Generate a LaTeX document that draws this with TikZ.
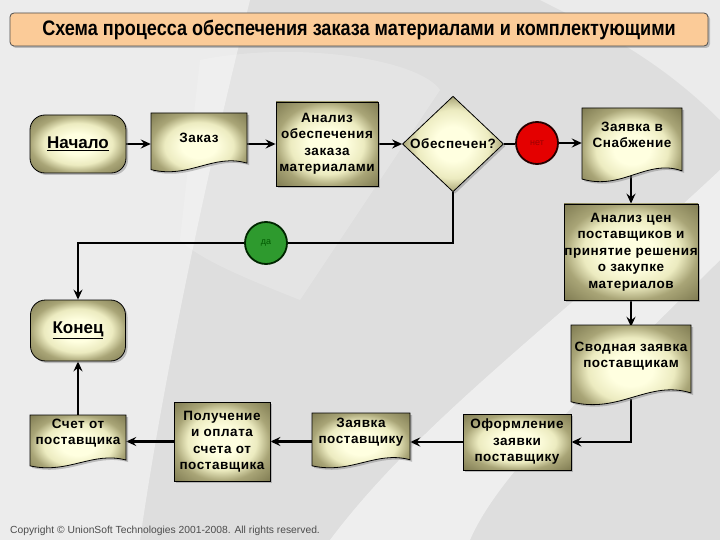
\documentclass[tikz,border=0pt]{standalone}
\usepackage{fontspec}
\setmainfont{Liberation Sans}
\newfontfamily\titlefont[FakeStretch=0.86]{Liberation Sans}
\newfontfamily\boxfont[LetterSpace=4]{Liberation Sans}
\usetikzlibrary{shapes.geometric,arrows.meta,shadows}
\pgfdeclarelayer{bg}\pgfdeclarelayer{conn}\pgfsetlayers{bg,conn,main}
\definecolor{boxin}{HTML}{FFFFE0}
\definecolor{boxmid}{HTML}{ECEBC0}
\definecolor{boxout}{HTML}{A9A577}
\definecolor{boxcorner}{HTML}{7D7950}
\definecolor{peach}{HTML}{FBCB98}
\definecolor{redc}{HTML}{E40000}
\definecolor{greenc}{HTML}{2E9A2E}
\definecolor{bggray}{HTML}{DEDEDE}
\pgfdeclareradialshading{olivesh}{\pgfpoint{0bp}{0bp}}{color(0bp)=(boxin); color(9bp)=(boxin); color(18bp)=(boxmid); color(25bp)=(boxout); color(36bp)=(boxcorner); color(50bp)=(boxcorner)}
\tikzset{
  olivefill/.style={shading=olivesh, draw=black, line width=0.8pt},
  shad/.style={drop shadow={shadow xshift=2pt, shadow yshift=-2pt, opacity=0.45}},
  boxtxt/.style={font=\boxfont\bfseries\fontsize{13.5}{16.5}\selectfont, align=center},
  procbox/.style={rectangle, olivefill, shad, boxtxt, inner sep=0pt},
  termbox/.style={rectangle, rounded corners=15pt, olivefill, shad, inner sep=0pt,
     font=\bfseries\fontsize{17}{20}\selectfont},
  decbox/.style={diamond, olivefill, shad, boxtxt, inner sep=0pt},
  docarea/.style={rectangle, draw=none, inner sep=0pt},
  doctxt/.style={boxtxt, inner sep=0pt},
  docshape/.style={olivefill, shad},
  circ/.style={circle, inner sep=0pt, minimum size=42pt, line width=1.8pt,
     font=\fontsize{9}{10}\selectfont},
  arr/.style={line width=2.2pt, -{Stealth[length=10pt,width=9pt,inset=3.5pt]}},
  ln/.style={line width=2.2pt}
}
\newcommand\docpath[4]{% l t r b  (y downward)
  \path[docshape] (#1,#2) -- (#3,#2) -- (#3,{#4-0.15*(#4-#2)})
    .. controls ({#3-0.35*(#3-#1)},{#4-0.32*(#4-#2)}) and ({#1+0.4*(#3-#1)},{#4+0.12*(#4-#2)})
    .. (#1,{#4-0.04*(#4-#2)}) -- cycle;}
\begin{document}
\begin{tikzpicture}[x=1pt,y=-1pt]
\useasboundingbox (0,0) rectangle (720,540);
\begin{pgfonlayer}{bg}
  \fill[bggray] (0,0) rectangle (720,540);
  \fill[white,opacity=0.45] (0,0) -- (250,0) .. controls (200,200) and (160,400) .. (140,540) -- (0,540) -- cycle;
  \fill[white,opacity=0.5] (330,540) .. controls (420,420) and (560,320) .. (720,170) -- (720,260) .. controls (600,380) and (500,470) .. (470,540) -- cycle;
  \fill[white,opacity=0.4] (540,0) -- (720,0) -- (720,120) .. controls (660,60) and (600,30) .. (540,0) -- cycle;
  \fill[white,opacity=0.2] (200,60) .. controls (300,40) and (420,60) .. (440,90) -- (300,300) .. controls (250,280) and (200,260) .. (180,240) -- cycle;
\end{pgfonlayer}

% title
\node[rectangle, rounded corners=4pt, fill=peach, draw=black!70, line width=0.8pt, shad,
      minimum width=698pt, minimum height=33pt, inner sep=0pt,
      font=\titlefont\bfseries\fontsize{21}{24}\selectfont] (title) at (359,29.5)
      {Схема процесса обеспечения заказа материалами и комплектующими};

% top row
\node[termbox, minimum width=96pt, minimum height=58pt] (start) at (78,144) {\underline{Начало}};
\docpath{151}{113}{247}{172}
\node[docarea, minimum width=96pt, minimum height=52pt] (zakaz) at (199,143) {};
\node[doctxt] (zakazt) at (199,138) {Заказ};
\node[procbox, minimum width=102pt, minimum height=84pt] (anobes) at (327,144)
   {Анализ\\обеспечения\\заказа\\материалами};
\node[decbox, minimum width=101pt, minimum height=86pt] (dia) at (453,144) {Обеспечен?};
\node[circ, fill=redc, draw=black!85!red, text=black!40!red] (net) at (537,143) {нет};
\docpath{582}{108}{682}{182}
\node[docarea, minimum width=100pt, minimum height=64pt] (zsn) at (632,143) {};
\node[doctxt] (zsnt) at (632,135) {Заявка в\\Снабжение};

% middle
\node[procbox, minimum width=134pt, minimum height=96pt] (acen) at (631,252)
   {Анализ цен\\поставщиков и\\принятие решения\\о закупке\\материалов};
\node[circ, fill=greenc, draw=black!85!green, text=black!65!green] (da) at (266,243) {да};
\node[termbox, minimum width=95pt, minimum height=61pt] (konec) at (78,330.5) {\underline{Конец}};
\docpath{571}{325}{691}{405}
\node[docarea, minimum width=120pt, minimum height=72pt] (svod) at (631,363) {};
\node[doctxt] (svodt) at (631,356) {Сводная заявка\\поставщикам};

% bottom row
\node[procbox, minimum width=108pt, minimum height=56pt] (oform) at (517,442)
   {Оформление\\заявки\\поставщику};
\docpath{312}{413}{410}{468}
\node[docarea, minimum width=98pt, minimum height=50pt] (zp) at (361,440) {};
\node[doctxt] (zpt) at (361,432) {Заявка\\поставщику};
\node[procbox, minimum width=96pt, minimum height=79pt] (polu) at (222,441.5)
   {Получение\\и оплата\\счета от\\поставщика};
\docpath{30}{415}{126}{468}
\node[docarea, minimum width=96pt, minimum height=50pt] (schet) at (78,440) {};
\node[doctxt] (schett) at (78,433) {Счет от\\поставщика};

% copyright
\node[anchor=west, inner sep=0pt, text=black!70, font=\fontsize{10.3}{12}\selectfont] (copy) at (10,531)
   {Copyright © UnionSoft Technologies 2001-2008. All rights reserved.};

% connectors
\begin{pgfonlayer}{conn}
  \draw[arr] (start.east) -- (start.east -| zakaz.west);
  \draw[arr] (zakaz.east |- anobes.west) -- (anobes.west);
  \draw[arr] (anobes.east) -- (anobes.east -| dia.west);
  \draw[ln] (dia.east) -- (dia.east -| net.west);
  \draw[arr] (net.east) -- (net.east -| zsn.west);
  \draw[arr] (zsn.south -| acen.north) -- (acen.north);
  \draw[ln] (dia.south) -- (dia.south |- da.east) -- (da.east);
  \draw[arr] (da.west) -- (da.west -| konec.north) -- (konec.north);
  \draw[arr] (acen.south) -- (acen.south |- svod.north);
  \draw[arr] (svod.south) -- (svod.south |- oform.east) -- (oform.east);
  \draw[arr] (oform.west) -- (oform.west -| zp.east);
  \draw[arr] (zp.west |- polu.east) -- (polu.east);
  \draw[arr] (polu.west) -- (polu.west -| schet.east);
  \draw[arr] (schet.north) -- (konec.south);
\end{pgfonlayer}
\end{tikzpicture}
\end{document}
